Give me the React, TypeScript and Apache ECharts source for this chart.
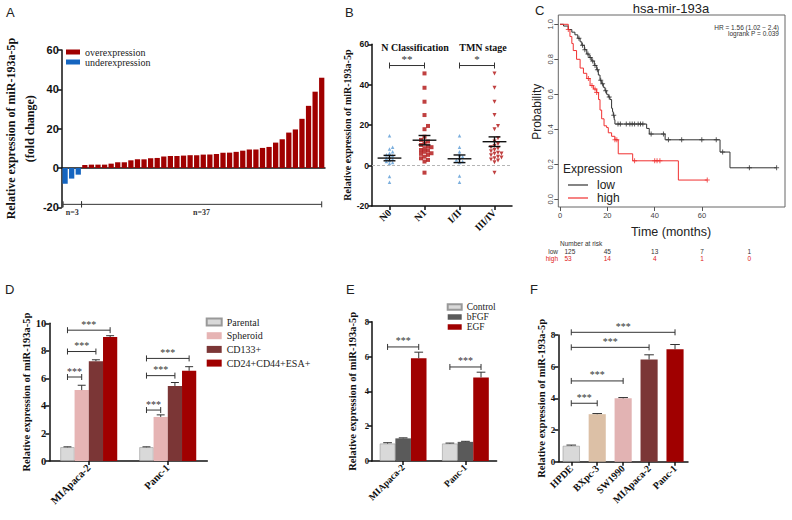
import React, { useEffect, useRef } from 'react';
import * as echarts from 'echarts';

const SERIF = '"Liberation Serif","Times New Roman",serif';
const SANS = '"Liberation Sans",Arial,Helvetica,sans-serif';
const INK = '#111';
const RED = '#a00000';

// ---------- Panel A: per-sample fold change (sorted)
const aUnderexpression = [-8.0, -5.4, -3.4];
const aOverexpression = [1.5, 1.7, 1.7, 1.7, 2.2, 2.9, 2.9, 3.9, 4.4, 4.4, 4.9, 5.1, 5.8, 6.1, 6.1, 6.3, 6.5,
  6.5, 6.8, 6.8, 7.1, 7.8, 7.8, 8.2, 8.8, 9.4, 9.4, 10.2, 10.7, 12.9, 14.6, 18.0, 19.6, 25.0, 31.6, 38.8, 45.9];
const aGroupLabels = ['n=3', 'n=37'];

// ---------- Panel B: scatter by group
const bCategories = ['N0', 'N1', 'I/II', 'III/IV'];
const bN0 = [14.7, 9.1, 8.2, 6.9, 6.1, 5.3, 4.8, 4.1, 3.6, 3.1, 2.5, 2.0, 1.5, 1.0, -5.4, -8.2];
const bN1 = [45.6, 38.5, 31.6, 25.0, 19.6, 18.0, 14.3, 12.7, 11.9, 11.0, 10.2, 9.4, 9.1, 8.6, 7.7, 7.4, 6.8, 6.1, 5.8, 5.3, 4.4, 3.6, 2.8, 2.0, -3.5];
const bStageI_II = [14.7, 9.1, 6.9, 5.3, 4.4, 3.6, 2.8, 2.0, 1.5, -5.1, -8.2];
const bStageIII_IV = [45.6, 38.5, 31.6, 25.0, 19.6, 18.0, 13.5, 11.9, 10.7, 9.7, 9.1, 8.4, 7.7, 7.1, 6.4, 6.0, 5.8, 5.1, 4.4, 4.0, 3.6, 3.0, 2.5, 1.6, -3.5];
const bTitles = ['N Classification', 'TMN stage'];
const bSignif = ['**', '*'];

// ---------- Panel C: Kaplan-Meier
const cLowTime = [0, 1.5, 3.5, 5, 6.3, 7.5, 8.5, 9.2, 10.3, 11.3, 12.3, 13.4, 14.5, 15.5, 16.2, 16.9, 17.6, 18.3, 19, 19.7, 20.4, 21.1, 21.8, 22.2, 22.5, 22.9, 23.2, 36.6, 37.7, 44.4, 67.6, 71.8, 91.5];
const cLowSurv = [1.0, 0.99, 0.97, 0.955, 0.94, 0.92, 0.9, 0.88, 0.855, 0.83, 0.81, 0.79, 0.765, 0.74, 0.71, 0.68, 0.66, 0.64, 0.62, 0.6, 0.585, 0.57, 0.52, 0.5, 0.48, 0.455, 0.43, 0.405, 0.373, 0.34, 0.27, 0.18, 0.18];
const cHighTime = [0, 3.5, 4.2, 5, 5.6, 7, 8.5, 9.9, 11.3, 12.7, 14.1, 15.5, 16.3, 16.9, 17.6, 18.6, 19.7, 20.4, 21.8, 23.2, 24.6, 30.7, 50, 62.2];
const cHighSurv = [1.0, 0.97, 0.93, 0.89, 0.85, 0.8, 0.75, 0.72, 0.69, 0.65, 0.63, 0.61, 0.57, 0.51, 0.46, 0.42, 0.41, 0.38, 0.36, 0.34, 0.26, 0.22, 0.11, 0.11];
const cLowCensor = [8, 9.5, 10.5, 11.8, 12.8, 13.8, 14.8, 15.8, 17.2, 18, 19.3, 20.8, 22.7, 24.5, 25.5, 28, 29.5, 30.5, 31.5, 33, 34, 35, 38.5, 43.7, 45.8, 51.4, 59.9, 66, 68.7, 80, 91.5];
const cHighCensor = [3.5, 12, 13.5, 14.8, 15.5, 23.2, 24, 31.5, 40, 41, 42.2, 62.2];
const cTicks = [0, 20, 40, 60, 80];
const cRiskLow = [125, 45, 13, 7, 1];
const cRiskHigh = [53, 14, 4, 1, 0];

// ---------- Panel D
const dCategories = ['MIApaca-2', 'Panc-1'];
const dNames = ['Parental', 'Spheroid', 'CD133+', 'CD24+CD44+ESA+'];
const dParental = [1.0, 1.0];
const dParentalErr = [0.03, 0.03];
const dSpheroid = [5.15, 3.2];
const dSpheroidErr = [0.35, 0.15];
const dCD133 = [7.25, 5.45];
const dCD133Err = [0.1, 0.25];
const dCD24 = [9.0, 6.55];
const dCD24Err = [0.1, 0.3];
const dBrackets = [
  { cat1: 0, bar1: 0, cat2: 0, bar2: 1, y: 6.1, label: '***' },
  { cat1: 0, bar1: 0, cat2: 0, bar2: 2, y: 7.95, label: '***' },
  { cat1: 0, bar1: 0, cat2: 0, bar2: 3, y: 9.5, label: '***' },
  { cat1: 1, bar1: 0, cat2: 1, bar2: 1, y: 3.7, label: '***' },
  { cat1: 1, bar1: 0, cat2: 1, bar2: 2, y: 6.2, label: '***' },
  { cat1: 1, bar1: 0, cat2: 1, bar2: 3, y: 7.45, label: '***' },
];

// ---------- Panel E
const eCategories = ['MIApaca-2', 'Panc-1'];
const eNames = ['Control', 'bFGF', 'EGF'];
const eControl = [1.0, 1.0];
const eControlErr = [0.05, 0.03];
const eBFGF = [1.3, 1.1];
const eBFGFErr = [0.03, 0.03];
const eEGF = [5.9, 4.8];
const eEGFErr = [0.35, 0.3];
const eBrackets = [
  { cat1: 0, bar1: 0, cat2: 0, bar2: 2, y: 6.55, label: '***' },
  { cat1: 1, bar1: 0, cat2: 1, bar2: 2, y: 5.4, label: '***' },
];

// ---------- Panel F
const fCategories = ['HPDE', 'BXpc-3', 'SW1990', 'MIApaca-2', 'Panc-1'];
const fValues = [1.0, 3.0, 4.0, 6.45, 7.1];
const fErr = [0.05, 0.04, 0.05, 0.3, 0.3];
const fBrackets = [
  { cat1: 0, bar1: 0, cat2: 1, bar2: 0, y: 3.69, label: '***' },
  { cat1: 0, bar1: 0, cat2: 2, bar2: 0, y: 5.1, label: '***' },
  { cat1: 0, bar1: 0, cat2: 3, bar2: 0, y: 7.22, label: '***' },
  { cat1: 0, bar1: 0, cat2: 4, bar2: 0, y: 8.17, label: '***' },
];

// ---------- styles
const dColors = ['#d9d9d9', '#e6b4b4', '#7b3636', RED];
const eColors = ['#d9d9d9', '#5a5a5a', RED];
const fColors = ['#d9d9d9', '#dcc0a6', '#e2b3b3', '#7b3636', RED];

function txt(text: string, x: number, y: number, o: any = {}) {
  return {
    type: 'text', silent: true,
    style: {
      text, x, y,
      fontFamily: o.family || SANS, fontSize: o.size || 10, fontWeight: o.weight || 'normal',
      fill: o.color || '#222',
      align: o.align || 'left', textAlign: o.align || 'left',
      verticalAlign: o.va || 'middle', textVerticalAlign: o.va || 'middle',
    },
  };
}

function bracketSeries(xAxisIndex: number, yAxisIndex: number, list: any[], nBars: number, gap: number, below = false, fontSize = 10) {
  return {
    type: 'custom', name: 'brackets' + xAxisIndex, xAxisIndex, yAxisIndex, silent: true, clip: false, z: 10,
    data: list.map((b) => [b.cat1, b.y]),
    renderItem: (params: any, api: any) => {
      const b = list[params.dataIndex];
      const band = api.size([1, 0])[0];
      const bw = (band * (1 - gap)) / nBars;
      const p1 = api.coord([b.cat1, b.y]);
      const p2 = api.coord([b.cat2, b.y]);
      const x1 = p1[0] + (b.bar1 - (nBars - 1) / 2) * bw;
      const x2 = p2[0] + (b.bar2 - (nBars - 1) / 2) * bw;
      const y = p1[1];
      const st = { stroke: '#333', lineWidth: 1 };
      return {
        type: 'group',
        children: [
          { type: 'line', shape: { x1, y1: y, x2, y2: y }, style: st },
          { type: 'line', shape: { x1, y1: y - 3, x2: x1, y2: y + 3 }, style: st },
          { type: 'line', shape: { x1: x2, y1: y - 3, x2, y2: y + 3 }, style: st },
          {
            type: 'text',
            style: {
              text: b.label, x: (x1 + x2) / 2, y: below ? y + 4 : y - 1,
              align: 'center', textAlign: 'center',
              verticalAlign: below ? 'top' : 'bottom', textVerticalAlign: below ? 'top' : 'bottom',
              fontFamily: SERIF, fontSize, fontWeight: below ? 'bold' : 'normal', fill: '#333',
            },
          },
        ],
      };
    },
  };
}

function errorSeries(xAxisIndex: number, yAxisIndex: number, groups: { v: number[]; e: number[] }[], gap: number) {
  const data: number[][] = [];
  groups.forEach((g, k) => g.v.forEach((v, c) => data.push([c, v, g.e[c], k])));
  const n = groups.length;
  return {
    type: 'custom', name: 'err' + xAxisIndex, xAxisIndex, yAxisIndex, silent: true, clip: false, z: 9,
    data,
    renderItem: (params: any, api: any) => {
      const c = api.value(0), v = api.value(1), e = api.value(2), k = api.value(3);
      const band = api.size([1, 0])[0];
      const bw = (band * (1 - gap)) / n;
      const p = api.coord([c, v]);
      const cx = p[0] + (k - (n - 1) / 2) * bw;
      const yt = api.coord([c, v + e])[1];
      const cap = bw * 0.28;
      const st = { stroke: '#333', lineWidth: 1 };
      return {
        type: 'group',
        children: [
          { type: 'line', shape: { x1: cx, y1: p[1], x2: cx, y2: yt }, style: st },
          { type: 'line', shape: { x1: cx - cap, y1: yt, x2: cx + cap, y2: yt }, style: st },
        ],
      };
    },
  };
}

function swarm(values: number[], dx: number, dy: number) {
  const order = values.map((_, i) => i).sort((a, b) => values[a] - values[b]);
  const placed: { x: number; y: number }[] = [];
  const out = values.map(() => 0);
  for (const i of order) {
    const y = values[i];
    for (let s = 0; s < 30; s++) {
      const off = s === 0 ? 0 : (s % 2 ? 1 : -1) * Math.ceil(s / 2) * dx;
      if (!placed.some((p) => Math.abs(p.y - y) < dy && Math.abs(p.x - off) < dx * 0.9)) {
        out[i] = off;
        placed.push({ x: off, y });
        break;
      }
    }
  }
  return out;
}

function survAt(times: number[], surv: number[], t: number) {
  let s = surv[0];
  for (let i = 0; i < times.length; i++) {
    if (times[i] <= t) s = surv[i];
    else break;
  }
  return s;
}

const valueAxisBase = (fontFamily: string, fontSize: number) => ({
  type: 'value',
  axisLine: { show: true, onZero: false, lineStyle: { color: INK, width: 1.5 } },
  axisTick: { show: true, length: 4, lineStyle: { color: INK, width: 1.5 } },
  axisLabel: { fontFamily, fontWeight: 'bold', fontSize, color: INK, margin: 3 },
  splitLine: { show: false },
  nameLocation: 'middle',
  nameRotate: 90,
});

const catAxisBase = (gridIndex: number, data: string[], fontSize: number) => ({
  gridIndex, type: 'category', data,
  axisLine: { show: true, onZero: false, lineStyle: { color: INK, width: 1.5 } },
  axisTick: { show: true, alignWithLabel: true, length: 4, lineStyle: { color: INK, width: 1.5 } },
  axisLabel: { interval: 0, rotate: 45, fontFamily: SERIF, fontWeight: 'bold', fontSize, color: INK, margin: 5 },
});

const yName = 'Relative expression of miR-193a-5p';

function buildOption() {
  const bGroups = [bN0, bN1, bStageI_II, bStageIII_IV];
  const bSymbols = ['triangle', 'rect', 'triangle', 'triangle'];
  const bRot = [0, 0, 0, 180];
  const bCol = ['#5b9bd5', '#b01010', '#5b9bd5', '#b01010'];
  const bScatter = bGroups.map((vals, gi) => {
    const offs = swarm(vals, gi % 2 ? 0.1 : 0.09, gi % 2 ? 1.7 : 1.4);
    return {
      type: 'scatter', name: 'B-' + bCategories[gi], xAxisIndex: 2, yAxisIndex: 1, silent: true,
      symbol: bSymbols[gi], symbolRotate: bRot[gi], symbolSize: gi % 2 ? 4 : 3.5,
      itemStyle: { color: bCol[gi] }, z: 4,
      data: vals.map((v, i) => [gi + offs[i], v]),
      markLine: gi === 0 ? {
        silent: true, symbol: 'none', label: { show: false },
        lineStyle: { type: [3, 2], color: '#b5b5b5', width: 1 },
        data: [{ yAxis: 0 }],
      } : undefined,
    };
  });
  const bStats = bGroups.map((vals, gi) => {
    const m = vals.reduce((a, b) => a + b, 0) / vals.length;
    const sd = Math.sqrt(vals.reduce((a, b) => a + (b - m) * (b - m), 0) / (vals.length - 1));
    return [gi, m, sd / Math.sqrt(vals.length)];
  });

  const cLowData = cLowTime.map((t, i) => [t, cLowSurv[i]]);
  const cHighData = cHighTime.map((t, i) => [t, cHighSurv[i]]);
  const plusPath = 'path://M2,0H3V2H5V3H3V5H2V3H0V2H2Z';

  return {
    animation: false,
    backgroundColor: '#fff',
    grid: [
      { left: 57, top: 50, width: 268, height: 157.3 },
      { left: 372, top: 44.3, width: 140, height: 161.7 },
      { left: 560, top: 24.3, width: 224.9, height: 175 },
      { left: 49.3, top: 323.3, width: 158, height: 137.7 },
      { left: 372, top: 321.7, width: 124.6, height: 139.3 },
      { left: 558.3, top: 335, width: 129.7, height: 126.7 },
    ],
    xAxis: [
      {
        gridIndex: 0, type: 'category', data: aUnderexpression.concat(aOverexpression).map((_, i) => String(i + 1)),
        axisLine: { show: true, onZero: true, lineStyle: { color: INK, width: 1.5 } },
        axisTick: { show: false }, axisLabel: { show: false },
      },
      { ...catAxisBase(1, bCategories, 10) },
      { gridIndex: 1, type: 'value', min: -0.5, max: 3.5, show: false, splitLine: { show: false } },
      {
        gridIndex: 2, type: 'value', min: 0, max: 95, interval: 20, offset: 7.7,
        axisLine: { show: false, onZero: false },
        axisTick: { show: true, length: 4, customValues: cTicks, lineStyle: { color: '#555', width: 1 } },
        axisLabel: { fontFamily: SANS, fontSize: 7.5, color: '#444', margin: 4, customValues: cTicks, showMaxLabel: false },
        splitLine: { show: false },
      },
      { ...catAxisBase(3, dCategories, 10.5) },
      { ...catAxisBase(4, eCategories, 9.5) },
      { ...catAxisBase(5, fCategories, 10) },
    ],
    yAxis: [
      {
        ...valueAxisBase(SANS, 11), gridIndex: 0, min: -20, max: 60, interval: 20,
        name: yName + '\n(fold change)', nameGap: 17,
        nameTextStyle: { fontFamily: SERIF, fontWeight: 'bold', fontSize: 12, color: INK, lineHeight: 19 },
      },
      {
        ...valueAxisBase(SANS, 8.5), gridIndex: 1, min: -20, max: 60, interval: 20,
        name: yName, nameGap: 17,
        nameTextStyle: { fontFamily: SERIF, fontWeight: 'bold', fontSize: 10, color: INK },
      },
      {
        gridIndex: 2, type: 'value', min: 0, max: 1, interval: 0.2, offset: 1.7,
        axisLine: { show: false, onZero: false },
        axisTick: { show: true, length: 4, lineStyle: { color: '#555', width: 1 } },
        axisLabel: { fontFamily: SANS, fontSize: 7.5, color: '#444', margin: 4, rotate: 90, formatter: (v: number) => v.toFixed(1) },
        splitLine: { show: false },
        name: 'Probability', nameLocation: 'middle', nameRotate: 90, nameGap: 15,
        nameTextStyle: { fontFamily: SANS, fontSize: 12, color: '#222' },
      },
      {
        ...valueAxisBase(SERIF, 10.5), gridIndex: 3, min: 0, max: 10, interval: 2,
        name: yName, nameGap: 13,
        nameTextStyle: { fontFamily: SERIF, fontWeight: 'bold', fontSize: 10.5, color: INK },
      },
      {
        ...valueAxisBase(SERIF, 8.5), gridIndex: 4, min: 0, max: 8, interval: 2,
        name: yName, nameGap: 14,
        nameTextStyle: { fontFamily: SERIF, fontWeight: 'bold', fontSize: 10.5, color: INK },
      },
      {
        ...valueAxisBase(SERIF, 9), gridIndex: 5, min: 0, max: 8, interval: 2,
        name: yName, nameGap: 11,
        nameTextStyle: { fontFamily: SERIF, fontWeight: 'bold', fontSize: 10.5, color: INK },
      },
    ],
    legend: [
      {
        data: ['overexpression', 'underexpression'], left: 66, top: 47, orient: 'vertical', padding: 0,
        icon: 'rect', itemWidth: 14, itemHeight: 5, itemGap: 0, selectedMode: false,
        textStyle: { fontFamily: SERIF, fontSize: 10, color: '#222', lineHeight: 10 },
      },
      {
        data: ['low', 'high'], left: 568, top: 178.5, orient: 'vertical', padding: 0,
        icon: 'rect', itemWidth: 20, itemHeight: 1.2, itemGap: 0, selectedMode: false,
        textStyle: { fontFamily: SANS, fontSize: 12, color: '#222', lineHeight: 13, padding: [0, 0, 0, 4] },
      },
      {
        data: dNames, left: 205.7, top: 316.5, orient: 'vertical', padding: 0,
        icon: 'rect', itemWidth: 15, itemHeight: 7, itemGap: 2.7, selectedMode: false,
        textStyle: { fontFamily: SERIF, fontSize: 10, color: '#222', lineHeight: 11 },
      },
      {
        data: eNames, left: 446.7, top: 302, orient: 'vertical', padding: 0,
        icon: 'rect', itemWidth: 14, itemHeight: 5.5, itemGap: 0, selectedMode: false,
        textStyle: { fontFamily: SERIF, fontSize: 9.5, color: '#222', lineHeight: 10 },
      },
    ],
    graphic: [
      txt('A', 6, 12, { size: 13 }),
      txt('B', 345, 12, { size: 13 }),
      txt('C', 535, 10, { size: 13 }),
      txt('D', 5, 289, { size: 13 }),
      txt('E', 346, 289, { size: 13 }),
      txt('F', 530, 289, { size: 13 }),
      txt(bTitles[0], 415, 47, { family: SERIF, weight: 'bold', size: 10, align: 'center', color: INK }),
      txt(bTitles[1], 483, 47, { family: SERIF, weight: 'bold', size: 10, align: 'center', color: INK }),
      txt('hsa-mir-193a', 671, 8, { size: 13, align: 'center' }),
      txt('HR = 1.56 (1.02 \u2212 2.4)', 779, 27, { size: 6.5, align: 'right', color: '#333' }),
      txt('logrank P = 0.039', 779, 33.5, { size: 6.5, align: 'right', color: '#333' }),
      txt('Time (months)', 671, 232, { size: 12.5, align: 'center' }),
      txt('Expression', 563, 169, { size: 12 }),
      txt('Number at risk', 560, 243.5, { size: 6.5, color: '#333' }),
      txt('low', 558, 251.3, { size: 6.5, align: 'right', color: '#333' }),
      txt('high', 558, 258.3, { size: 6.5, align: 'right', color: '#e02020' }),
      {
        type: 'rect', silent: true, shape: { x: 558.3, y: 15, width: 226.7, height: 192 },
        style: { fill: 'none', stroke: '#666', lineWidth: 1 },
      },
    ],
    series: [
      // ---- A
      {
        type: 'bar', name: 'underexpression', xAxisIndex: 0, yAxisIndex: 0, stack: 'a',
        barCategoryGap: '20%', itemStyle: { color: '#1565c0' },
        data: aUnderexpression.concat(aOverexpression.map(() => '-' as any)),
      },
      {
        type: 'bar', name: 'overexpression', xAxisIndex: 0, yAxisIndex: 0, stack: 'a',
        barCategoryGap: '20%', itemStyle: { color: RED },
        data: aUnderexpression.map(() => '-' as any).concat(aOverexpression),
      },
      bracketSeries(0, 0, [
        { cat1: 0, bar1: -0.3, cat2: 0, bar2: 2.5, y: -18.5, label: aGroupLabels[0] },
        { cat1: 0, bar1: 2.5, cat2: 0, bar2: 39, y: -18.5, label: aGroupLabels[1] },
      ], 1, 0, true, 8),
      // ---- B
      ...bScatter,
      {
        type: 'custom', name: 'B-stats', xAxisIndex: 2, yAxisIndex: 1, silent: true, clip: false, z: 6,
        data: bStats,
        renderItem: (params: any, api: any) => {
          const gi = api.value(0), m = api.value(1), se = api.value(2);
          const band = api.size([1, 0])[0];
          const pm = api.coord([gi, m]);
          const yHi = api.coord([gi, m + se])[1];
          const yLo = api.coord([gi, m - se])[1];
          const w = band * 0.34, c = band * 0.17;
          const st = { stroke: '#111', lineWidth: 1.4 };
          return {
            type: 'group', children: [
              { type: 'line', shape: { x1: pm[0] - w, y1: pm[1], x2: pm[0] + w, y2: pm[1] }, style: st },
              { type: 'line', shape: { x1: pm[0], y1: yHi, x2: pm[0], y2: yLo }, style: st },
              { type: 'line', shape: { x1: pm[0] - c, y1: yHi, x2: pm[0] + c, y2: yHi }, style: st },
              { type: 'line', shape: { x1: pm[0] - c, y1: yLo, x2: pm[0] + c, y2: yLo }, style: st },
            ],
          };
        },
      },
      bracketSeries(2, 1, [
        { cat1: 0, bar1: 0, cat2: 1, bar2: 0, y: 49.5, label: bSignif[0] },
        { cat1: 2, bar1: 0, cat2: 3, bar2: 0, y: 49.5, label: bSignif[1] },
      ], 1, 0, false, 11),
      // ---- C
      {
        type: 'line', name: 'low', xAxisIndex: 3, yAxisIndex: 2, step: 'end', showSymbol: false, clip: false,
        silent: true, color: '#333', lineStyle: { color: '#333', width: 1 }, itemStyle: { color: '#333' },
        data: cLowData,
      },
      {
        type: 'line', name: 'high', xAxisIndex: 3, yAxisIndex: 2, step: 'end', showSymbol: false, clip: false,
        silent: true, color: '#f03030', lineStyle: { color: '#f03030', width: 1 }, itemStyle: { color: '#f03030' },
        data: cHighData,
      },
      {
        type: 'scatter', name: 'low-censor', xAxisIndex: 3, yAxisIndex: 2, silent: true, clip: false,
        symbol: plusPath, symbolSize: 5, itemStyle: { color: '#333' },
        data: cLowCensor.map((t) => [t, survAt(cLowTime, cLowSurv, t)]),
      },
      {
        type: 'scatter', name: 'high-censor', xAxisIndex: 3, yAxisIndex: 2, silent: true, clip: false,
        symbol: plusPath, symbolSize: 5, itemStyle: { color: '#f03030' },
        data: cHighCensor.map((t) => [t, survAt(cHighTime, cHighSurv, t)]),
      },
      {
        type: 'custom', name: 'risk', xAxisIndex: 3, yAxisIndex: 2, silent: true, clip: false,
        data: cTicks.map((t, i) => [t, i]),
        renderItem: (params: any, api: any) => {
          const i = params.dataIndex;
          const p = api.coord([api.value(0), 0]);
          const first = i === 0;
          const x = first ? p[0] + 4.5 : p[0];
          const al = first ? 'left' : 'center';
          const mk = (t: string, y: number, fill: string) => ({
            type: 'text',
            style: { text: t, x, y, align: al, textAlign: al, verticalAlign: 'middle', textVerticalAlign: 'middle', fontFamily: SANS, fontSize: 6.5, fill },
          });
          return { type: 'group', children: [mk(String(cRiskLow[i]), p[1] + 52, '#333'), mk(String(cRiskHigh[i]), p[1] + 59, '#e02020')] };
        },
      },
      // ---- D
      ...[dParental, dSpheroid, dCD133, dCD24].map((vals, k) => ({
        type: 'bar', name: dNames[k], xAxisIndex: 4, yAxisIndex: 3, barGap: 0, barCategoryGap: '28%',
        itemStyle: { color: dColors[k], borderColor: k === 0 ? '#999' : dColors[k], borderWidth: k === 0 ? 0.6 : 0 },
        data: vals,
      })),
      errorSeries(4, 3, [
        { v: dParental, e: dParentalErr }, { v: dSpheroid, e: dSpheroidErr },
        { v: dCD133, e: dCD133Err }, { v: dCD24, e: dCD24Err },
      ], 0.28),
      bracketSeries(4, 3, dBrackets, 4, 0.28, false, 10),
      // ---- E
      ...[eControl, eBFGF, eEGF].map((vals, k) => ({
        type: 'bar', name: eNames[k], xAxisIndex: 5, yAxisIndex: 4, barGap: 0, barCategoryGap: '25%',
        itemStyle: { color: eColors[k], borderColor: k === 0 ? '#999' : eColors[k], borderWidth: k === 0 ? 0.6 : 0 },
        data: vals,
      })),
      errorSeries(5, 4, [
        { v: eControl, e: eControlErr }, { v: eBFGF, e: eBFGFErr }, { v: eEGF, e: eEGFErr },
      ], 0.25),
      bracketSeries(5, 4, eBrackets, 3, 0.25, false, 10),
      // ---- F
      {
        type: 'bar', name: 'F-lines', xAxisIndex: 6, yAxisIndex: 5, barCategoryGap: '34%',
        data: fValues.map((v, i) => ({
          value: v,
          itemStyle: { color: fColors[i], borderColor: i === 0 ? '#999' : fColors[i], borderWidth: i === 0 ? 0.6 : 0 },
        })),
      },
      errorSeries(6, 5, [{ v: fValues, e: fErr }], 0.34),
      bracketSeries(6, 5, fBrackets, 1, 0.34, false, 10),
    ],
  };
}

export default function App() {
  const ref = useRef<HTMLDivElement>(null);
  useEffect(() => {
    const chart = echarts.init(ref.current as HTMLDivElement, null, { renderer: 'svg' });
    chart.setOption(buildOption() as any);
    return () => chart.dispose();
  }, []);
  return (
    <div
      ref={ref}
      style={{ position: 'absolute', left: 0, top: 0, width: 792, height: 520, background: '#fff' }}
    />
  );
}
